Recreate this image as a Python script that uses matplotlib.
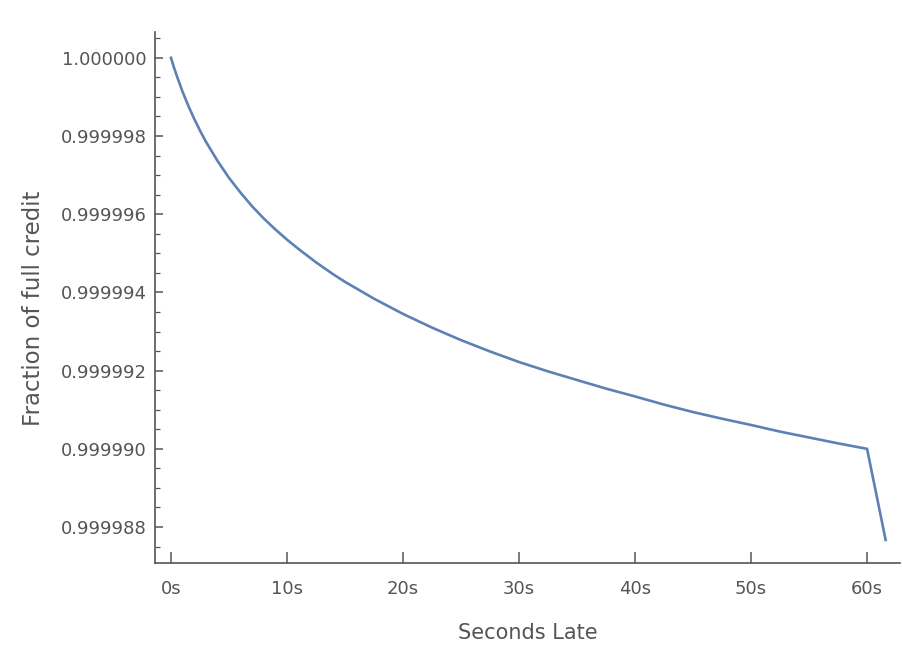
import numpy as np
import matplotlib.pyplot as plt
from matplotlib.ticker import MultipleLocator, FormatStrFormatter, FuncFormatter

# seconds late vs. penalty (deficit below full credit, in millionths)
seconds = [0, 0.25, 0.5, 1, 1.5, 2, 2.5, 3, 4, 5, 6, 7, 8, 9, 10, 11, 12.5, 14, 15,
           17.5, 20, 22.5, 25, 27.5, 30, 32.5, 35, 37.5, 40, 42.5, 45, 47.5, 50,
           52.5, 55, 57.5, 60, 61.6]
deficit = [0, 0.24, 0.46, 0.87, 1.23, 1.56, 1.86, 2.14, 2.63, 3.07, 3.45, 3.8, 4.11,
           4.39, 4.65, 4.89, 5.23, 5.54, 5.73, 6.16, 6.55, 6.9, 7.22, 7.51, 7.78,
           8.02, 8.24, 8.46, 8.66, 8.87, 9.06, 9.23, 9.39, 9.56, 9.71, 9.86,
           10.0, 12.33]

xticks = [0, 10, 20, 30, 40, 50, 60]

credit = 1 - np.array(deficit) * 1e-6

plt.rcParams['font.family'] = 'DejaVu Sans'
fig = plt.figure(figsize=(9.02, 6.49), dpi=100)
ax = fig.add_axes([0.1718, 0.1325, 0.826, 0.8182])

ax.plot(seconds, credit, color='#5E81B5', lw=1.9, solid_joinstyle='miter')

ax.set_xlim(-1.38, 62.84)
ax.set_ylim(0.99998708, 1.00000066)

ax.spines['top'].set_visible(False)
ax.spines['right'].set_visible(False)
for s in ['left', 'bottom']:
    ax.spines[s].set_color('#555555')
    ax.spines[s].set_linewidth(1.2)

ax.set_xticks(xticks)
ax.xaxis.set_major_formatter(FuncFormatter(lambda v, p: '%ds' % v))
ax.yaxis.set_major_locator(MultipleLocator(2e-6))
ax.yaxis.set_minor_locator(MultipleLocator(0.5e-6))
ax.yaxis.set_major_formatter(FormatStrFormatter('%.6f'))

ax.tick_params(axis='y', which='major', direction='in', length=6, width=1.1,
               color='#555555', labelcolor='#555555', labelsize=13, pad=6)
ax.tick_params(axis='y', which='minor', direction='in', length=3.5, width=0.9,
               color='#555555')
ax.tick_params(axis='x', which='major', direction='in', length=8, width=1.1,
               color='#555555', labelcolor='#555555', labelsize=13, pad=12)

ax.set_xlabel('Seconds Late', fontsize=15, color='#555555', labelpad=18)
ax.set_ylabel('Fraction of full credit', fontsize=16.5, color='#555555', labelpad=8)
ax.yaxis.set_label_coords(-0.148, 0.48)

fig.savefig('out.png', dpi=100)
